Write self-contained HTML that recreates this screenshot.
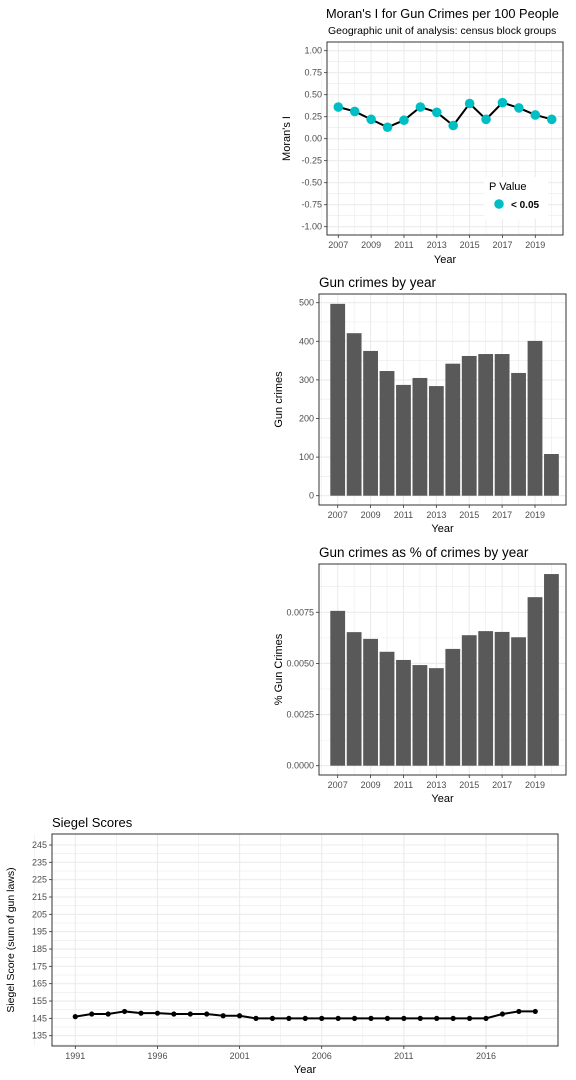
<!DOCTYPE html>
<html><head><meta charset="utf-8"><style>
body{margin:0;background:#fff;width:576px;height:1080px;overflow:hidden}
svg{display:block;font-family:"Liberation Sans",Arial,sans-serif}
</style></head><body>
<svg id="s" width="576" height="1080"></svg>
<script>
const moranYears=[2007,2008,2009,2010,2011,2012,2013,2014,2015,2016,2017,2018,2019,2020];
const moranValues=[0.36,0.31,0.22,0.13,0.21,0.36,0.30,0.15,0.40,0.22,0.41,0.35,0.27,0.22];
const moranTicks=[-1,-0.75,-0.5,-0.25,0,0.25,0.5,0.75,1];
const yearTicks=[2007,2009,2011,2013,2015,2017,2019];
const gunYears=[2007,2008,2009,2010,2011,2012,2013,2014,2015,2016,2017,2018,2019,2020];
const gunCounts=[497,421,375,323,287,305,284,342,362,367,367,318,401,108];
const gunTicks=[0,100,200,300,400,500];
const pctValues=[0.00757,0.00653,0.00620,0.00557,0.00517,0.00492,0.00477,0.00571,0.00638,0.00658,0.00654,0.00628,0.00824,0.00937];
const pctTicks=[0,0.0025,0.005,0.0075];
const siegelYears=[1991,1992,1993,1994,1995,1996,1997,1998,1999,2000,2001,2002,2003,2004,2005,2006,2007,2008,2009,2010,2011,2012,2013,2014,2015,2016,2017,2018,2019];
const siegelValues=[146,147.5,147.5,149,148,148,147.5,147.5,147.5,146.5,146.5,145,145,145,145,145,145,145,145,145,145,145,145,145,145,145,147.5,149,149];
const siegelTicks=[135,145,155,165,175,185,195,205,215,225,235,245];
const siegelXTicks=[1991,1996,2001,2006,2011,2016];

const S=document.getElementById('s');
const NS='http://www.w3.org/2000/svg';
function mk(t,a,p){const e=document.createElementNS(NS,t);for(const k in a)e.setAttribute(k,a[k]);(p||S).appendChild(e);return e;}
function txt(x,y,s,a){const e=mk('text',Object.assign({x:x,y:y},a));e.textContent=s;return e;}
function lin(d0,d1,r0,r1){return v=>r0+(v-d0)*(r1-r0)/(d1-d0);}

function panel(name,L,T,R,B,xs,ys,xt,yt,yfmt,xminor,yminor){
  const g=mk('g',{});
  
  
  xminor.forEach(v=>mk('line',{x1:xs(v),x2:xs(v),y1:T,y2:B,stroke:'#ebebeb','stroke-width':0.6},g));
  yminor.forEach(v=>mk('line',{y1:ys(v),y2:ys(v),x1:L,x2:R,stroke:'#ebebeb','stroke-width':0.6},g));
  xt.forEach(v=>mk('line',{x1:xs(v),x2:xs(v),y1:T,y2:B,stroke:'#ebebeb','stroke-width':1.1},g));
  yt.forEach(v=>mk('line',{y1:ys(v),y2:ys(v),x1:L,x2:R,stroke:'#ebebeb','stroke-width':1.1},g));
  const ya=mk('g',{});
  
  
  yt.forEach(v=>{mk('line',{x1:L-3,x2:L,y1:ys(v),y2:ys(v),stroke:'#333','stroke-width':0.8},ya);
    txt(L-5,ys(v)+3,yfmt(v),{'font-size':9,fill:'#4d4d4d','text-anchor':'end'},ya);});
  const xa=mk('g',{});
  
  
  xt.forEach(v=>{mk('line',{x1:xs(v),x2:xs(v),y1:B,y2:B+3,stroke:'#333','stroke-width':0.8},xa);
    txt(xs(v),B+13,String(v),{'font-size':9,fill:'#4d4d4d','text-anchor':'middle'},xa);});
}
function frame(L,T,R,B){mk('rect',{x:L,y:T,width:R-L,height:B-T,fill:'none',stroke:'#333','stroke-width':1});}
function mids(a){const r=[];for(let i=0;i<a.length-1;i++)r.push((a[i]+a[i+1])/2);return r;}

// Chart 1
{const L=327,T=42,R=563,B=235;
const xs=lin(2007,2019,338.3,535.3), ys=lin(1,-1,50.7,226.7);
panel('moran',L,T,R,B,xs,ys,yearTicks,moranTicks,v=>v.toFixed(2),[2006,2008,2010,2012,2014,2016,2018,2020],mids(moranTicks));
frame(L,T,R,B);
const t=txt(326,18,"Moran's I for Gun Crimes per 100 People",{'font-size':12.8,fill:'#000'});
const st=txt(328,34,"Geographic unit of analysis: census block groups",{'font-size':10.5,fill:'#000'});
const yl=txt(0,0,"Moran's I",{'font-size':11,'text-anchor':'middle',transform:`translate(290,${(T+B)/2}) rotate(-90)`});
const xl=txt((L+R)/2,263,"Year",{'font-size':11,'text-anchor':'middle'});
const pts=moranYears.map((y,i)=>xs(y)+','+ys(moranValues[i])).join(' ');
const pl=mk('polyline',{points:pts,fill:'none',stroke:'#000','stroke-width':2});
moranYears.forEach((y,i)=>{const c=mk('circle',{cx:xs(y),cy:ys(moranValues[i]),r:4.8,fill:'#00bfc4'});});
const lg=mk('g',{});
mk('rect',{x:484,y:177,width:64,height:42,fill:'#fff'},lg);
txt(489,190,"P Value",{'font-size':11},lg);
mk('circle',{cx:499,cy:204,r:4.8,fill:'#00bfc4'},lg);
txt(511,208,"< 0.05",{'font-size':10,'font-weight':'bold'},lg);}

// Chart 2
{const L=319,T=294,R=566,B=505;
const xs=lin(2007,2019,337.7,535), ys=lin(0,500,495.7,302.7);
panel('gun',L,T,R,B,xs,ys,yearTicks,gunTicks,v=>String(v),[2006,2008,2010,2012,2014,2016,2018,2020],[50,150,250,350,450]);
const bw=0.9*(xs(2008)-xs(2007));
gunYears.forEach((y,i)=>{const r=mk('rect',{x:xs(y)-bw/2,y:ys(gunCounts[i]),width:bw,height:ys(0)-ys(gunCounts[i]),fill:'#595959'});});
frame(L,T,R,B);
const t=txt(319,287,"Gun crimes by year",{'font-size':13.5});
const yl=txt(0,0,"Gun crimes",{'font-size':11,'text-anchor':'middle',transform:`translate(282,${(T+B)/2}) rotate(-90)`});
const xl=txt((L+R)/2,532,"Year",{'font-size':11,'text-anchor':'middle'});}

// Chart 3
{const L=319,T=564,R=566,B=775;
const xs=lin(2007,2019,337.7,535), ys=lin(0,0.0075,765.7,612.3);
panel('pct',L,T,R,B,xs,ys,yearTicks,pctTicks,v=>v.toFixed(4),[2006,2008,2010,2012,2014,2016,2018,2020],[0.00125,0.00375,0.00625,0.00875]);
const bw=0.9*(xs(2008)-xs(2007));
gunYears.forEach((y,i)=>{const r=mk('rect',{x:xs(y)-bw/2,y:ys(pctValues[i]),width:bw,height:ys(0)-ys(pctValues[i]),fill:'#595959'});});
frame(L,T,R,B);
const t=txt(319,557,"Gun crimes as % of crimes by year",{'font-size':13.5});
const yl=txt(0,0,"% Gun Crimes",{'font-size':11,'text-anchor':'middle',transform:`translate(282,${(T+B)/2}) rotate(-90)`});
const xl=txt((L+R)/2,802,"Year",{'font-size':11,'text-anchor':'middle'});}

// Chart 4
{const L=52,T=834,R=558,B=1046;
const xs=lin(1991,2016,75.3,486), ys=lin(135,245,1035.7,845);
const xm=[];for(let y=1988.5;y<=2021;y+=5)xm.push(y);
panel('siegel',L,T,R,B,xs,ys,siegelXTicks,siegelTicks,v=>String(v),xm,[130,140,150,160,170,180,190,200,210,220,230,240]);
frame(L,T,R,B);
const pts=siegelYears.map((y,i)=>xs(y)+','+ys(siegelValues[i])).join(' ');
const pl=mk('polyline',{points:pts,fill:'none',stroke:'#000','stroke-width':2});
siegelYears.forEach((y,i)=>{const c=mk('circle',{cx:xs(y),cy:ys(siegelValues[i]),r:2.6,fill:'#000'});});
const t=txt(52,827,"Siegel Scores",{'font-size':13});
const yl=txt(0,0,"Siegel Score (sum of gun laws)",{'font-size':10.5,'text-anchor':'middle',transform:`translate(14,${(T+B)/2}) rotate(-90)`});
const xl=txt((L+R)/2,1073,"Year",{'font-size':11,'text-anchor':'middle'});}
</script>
</body></html>
